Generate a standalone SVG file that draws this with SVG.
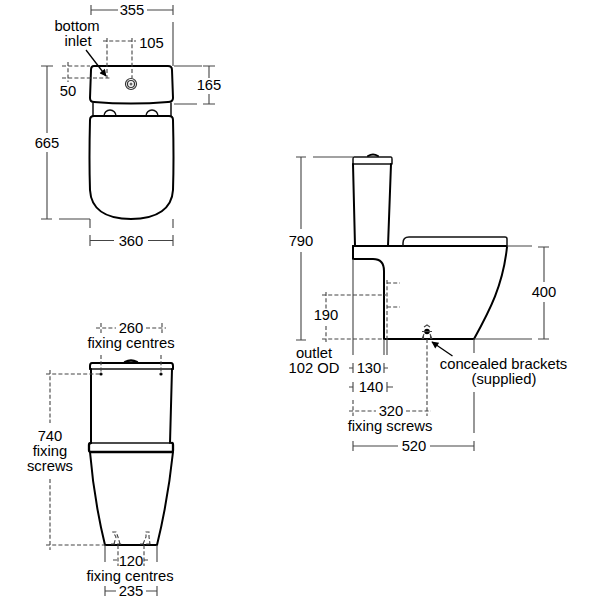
<svg xmlns="http://www.w3.org/2000/svg" width="600" height="600" viewBox="0 0 600 600">
<style>
text{font-family:"Liberation Sans",Arial,sans-serif;font-size:14.8px;fill:#000;text-anchor:middle}
.s{fill:none;stroke:#000;stroke-width:2;stroke-linejoin:round;stroke-linecap:round}
.l{fill:none;stroke:#111;stroke-width:1.5;stroke-linejoin:round;stroke-linecap:round}
.m{fill:none;stroke:#000;stroke-width:1.3}
.t{fill:none;stroke:#444;stroke-width:1.1}
.d{fill:none;stroke:#444;stroke-width:1.1;stroke-dasharray:4 2.2}
</style>
<defs>
<marker id="ah" viewBox="0 0 10 10" refX="9" refY="5" markerWidth="9" markerHeight="7" orient="auto" markerUnits="userSpaceOnUse"><path d="M0 0L10 5L0 10Z" fill="#000"/></marker>
</defs>
<rect width="600" height="600" fill="#fff"/>

<g id="top-view">
<path class="s" d="M94 66H168Q172 66 172 70L173 98Q173 102 168 102Q131 105 94 102Q90 102 90 98L91 70Q91 66 94 66Z"/>
<path class="l" d="M93 103V116M171 103V116"/>
<path class="l" d="M104 116A6 6 0 0 1 116 116M146 116A6 6 0 0 1 158 116"/>
<path class="s" d="M94 116H169Q173 116 173 120Q174 160 173 190C172 208 158 219 131 219C104 219 91 208 90 190Q89 160 90 120Q90 116 94 116Z"/>
<circle cx="131" cy="84" r="5.500" fill="none" stroke="#333" stroke-width="1.200"/>
<circle cx="131" cy="84" r="3.500" fill="none" stroke="#333" stroke-width="1.200"/>
<circle cx="131" cy="84" r="1.500" fill="#666"/>
</g>

<g id="front-view">
<path class="s" d="M90 369V366Q90 363 92 363H171Q173 363 173 366V369"/>
<path class="l" d="M90 369H173"/>
<path class="s" d="M91 369L91 443M172 369L170 443"/>
<path class="s" d="M125 362Q131 359 137 362" style="stroke-width:2.500"/>
<path class="l" d="M91 443H172"/>
<path class="s" d="M91 443Q89 443 89 445V450Q89 452 91 452H172Q173 452 173 450V445Q173 443 172 443" style="stroke-width:2.300"/>
<path class="s" d="M90 452Q94 500 105 545H157Q168 500 173 452"/>
<path class="d" d="M111 544H122M114 544L116 537L113 532H116L118 537L120 544M140 544H151M143 544L146 537L146 532H149L149 537L150 544"/>
<circle cx="101" cy="374" r="1.600" fill="#000"/>
<circle cx="161" cy="374" r="1.600" fill="#000"/>
</g>

<g id="side-view">
<path class="l" d="M354 157H391Q392 157 392 159V164H353V159Q353 157 354 157Z"/>
<path class="s" d="M368 156Q373 153 378 156"/>
<path class="s" d="M353 164L355 246M391 164L388 246"/>
<path class="s" d="M353 246H507"/>
<path class="l" d="M403 246V243Q403 237 409 237H505Q507 237 507 239V246"/>
<path class="s" d="M353 246V259H373Q384 259 384 271V339H474"/>
<path class="s" d="M507 247C503 285 490 310 474 339"/>
<circle cx="427" cy="331.500" r="2.800" fill="#000"/>
<path class="t" d="M422 339L424 334M432 339L430 334M424 327L427 325L430 327M422 331.500H432M423.500 339V335M430.500 339V335"/>
</g>

<g id="connectors">
<path class="t" d="M91 5V15M91 10H118M147 10H173M173 5V15M173 22V66"/>
<path class="t" d="M174 66H202M174 104H197M203 66H215M209 66V78M209 94V104M203 104H215"/>
<path class="t" d="M41 66H53M47 66V133M47 152V219M41 219H52M59 219H90"/>
<path class="t" d="M90 219V228M173 219V228M90 235V246M90 240.500H114M148 240.500H173M173 235V246"/>
<path class="d" d="M107 38V78M132 38V78M103 41H136M62 66H90M62 78H111M68 62V82"/>
<path class="m" marker-end="url(#ah)" d="M86 50L106 76"/>

<path class="d" d="M96 328H116M146 328H166M101 323V333M162 323V333M101 355V374M161 355V374M46 374H101M50 370V423M50 479V550M46 545H105"/>
<path class="t" d="M105 545V562M157 545V562M105 586V596M105 591H116M146 591H157M157 586V596"/>
<path class="d" d="M118 545V566M144 545V566M113 560H118M144 560H149"/>

<path class="t" d="M296 157H306M313 157H353M301 157V229M301 252V340M296 340H306"/>
<path class="t" d="M507 246H532M538 247H549M544 247V282M544 302V339M538 339H549M474 339H532"/>
<path class="t" d="M353 259V355M384 339V355M387 339V355M474 339V353M474 392V433M474 441V451M353 441V451M353 446H398M430 446H474"/>
<path class="t" d="M349 368H353M353 363V373M384 363V373M384 368H388M349 387H353M353 382V392M387 382V392M387 387H393"/>
<path class="d" d="M322 295H386M322 339H384M326 292V311M326 326V342M387 280V339M387 283H400M387 307H400"/>
<path class="d" d="M353 400V416M349 411H376M406 411H431M427 339V416"/>
<path class="m" marker-end="url(#ah)" d="M452.500 356L432 342"/>
</g>

<g id="labels">
<text x="132" y="15">355</text>
<text x="77" y="31">bottom</text>
<text x="78" y="46">inlet</text>
<text x="151.500" y="48">105</text>
<text x="68" y="96">50</text>
<text x="209" y="90">165</text>
<text x="47" y="148">665</text>
<text x="131" y="246">360</text>
<text x="131" y="333">260</text>
<text x="131" y="348">fixing centres</text>
<text x="50" y="441">740</text>
<text x="50" y="456">fixing</text>
<text x="50" y="471">screws</text>
<text x="131" y="566">120</text>
<text x="130" y="581">fixing centres</text>
<text x="131" y="596">235</text>
<text x="301" y="246">790</text>
<text x="544" y="297">400</text>
<text x="326" y="320">190</text>
<text x="314" y="358">outlet</text>
<text x="314" y="373">102 OD</text>
<text x="369" y="373">130</text>
<text x="371" y="392">140</text>
<text x="391" y="416">320</text>
<text x="390" y="431">fixing screws</text>
<text x="414" y="451">520</text>
<text x="503.500" y="368.500">concealed brackets</text>
<text x="504" y="384">(supplied)</text>
</g>
</svg>
